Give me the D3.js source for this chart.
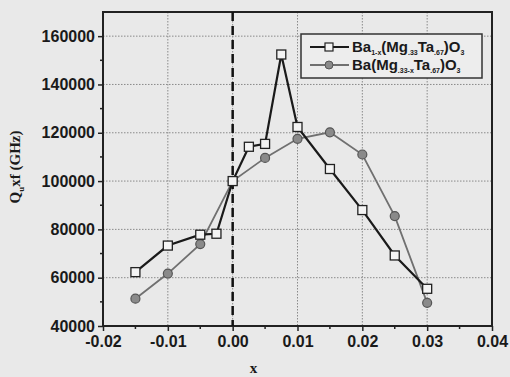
<!DOCTYPE html>
<html>
<head>
<meta charset="utf-8">
<script src="https://cdn.jsdelivr.net/npm/d3@7"></script>
<style>
  body { margin: 0; background: #e9e9e9; }
  svg { display: block; }
</style>
</head>
<body>
<svg id="chart" width="510" height="377"></svg>
<script>
// data
let xSquare = [-0.015, -0.01, -0.005, -0.0025, 0, 0.0025, 0.005, 0.0075, 0.01, 0.015, 0.02, 0.025, 0.03];
let ySquare = [62300, 73300, 77800, 78200, 100000, 114200, 115400, 152400, 122400, 105000, 88000, 69200, 55400];
let xCircle = [-0.015, -0.01, -0.005, 0, 0.005, 0.01, 0.015, 0.02, 0.025, 0.03];
let yCircle = [51300, 61700, 73900, 100000, 109600, 117500, 120200, 111000, 85500, 49600];
let xTicks = [-0.02, -0.01, 0.00, 0.01, 0.02, 0.03, 0.04];
let xTickLabels = ["-0.02", "-0.01", "0.00", "0.01", "0.02", "0.03", "0.04"];
let yTicks = [40000, 60000, 80000, 100000, 120000, 140000, 160000];

let plotL = 103, plotR = 492, plotT = 12, plotB = 326;
let svg = d3.select("#chart");

let x = d3.scaleLinear().domain([-0.02, 0.04]).range([plotL, plotR]);
let y = d3.scaleLinear().domain([40000, 170000]).range([plotB, plotT]);

// grid
svg.append("g")
	.selectAll("line")
	.data(xTicks.slice(1, -1))
	.enter().append("line")
	.attr("x1", d => x(d)).attr("x2", d => x(d))
	.attr("y1", plotT).attr("y2", plotB)
	.attr("stroke", "#8a8a8a")
	.attr("stroke-width", 1)
	.attr("stroke-dasharray", "1.5,1.5");

svg.append("g")
	.selectAll("line")
	.data(yTicks.slice(1))
	.enter().append("line")
	.attr("x1", plotL).attr("x2", plotR)
	.attr("y1", d => y(d)).attr("y2", d => y(d))
	.attr("stroke", "#8a8a8a")
	.attr("stroke-width", 1)
	.attr("stroke-dasharray", "1.5,1.5");

// axes
let xAxis = svg.append("g")
	.attr("transform", "translate(0," + plotB + ")")
	.call(d3.axisBottom(x).tickValues(xTicks)
		.tickFormat((d, i) => xTickLabels[i]).tickSize(5).tickPadding(5));
let yAxis = svg.append("g")
	.attr("transform", "translate(" + plotL + ",0)")
	.call(d3.axisLeft(y).tickValues(yTicks).tickFormat(d3.format("d")).tickSize(5).tickPadding(3));

// minor ticks
svg.append("g")
	.selectAll("line")
	.data(d3.range(-0.015, 0.04, 0.01))
	.enter().append("line")
	.attr("x1", d => x(d)).attr("x2", d => x(d))
	.attr("y1", plotB).attr("y2", plotB + 3)
	.attr("stroke", "#222").attr("stroke-width", 1.5);
svg.append("g")
	.selectAll("line")
	.data(d3.range(50000, 170000, 20000))
	.enter().append("line")
	.attr("x1", plotL - 3).attr("x2", plotL)
	.attr("y1", d => y(d)).attr("y2", d => y(d))
	.attr("stroke", "#222").attr("stroke-width", 1.5);

[xAxis, yAxis].forEach(function(a) {
	a.select(".domain").remove();
	a.selectAll("line").attr("stroke", "#222").attr("stroke-width", 1.5);
	a.selectAll("text")
		.style("font", "bold 16px 'Liberation Sans', Arial, sans-serif")
		.attr("fill", "#1a1a1a");
});

// frame
svg.append("rect")
	.attr("x", plotL).attr("y", plotT)
	.attr("width", plotR - plotL).attr("height", plotB - plotT)
	.attr("fill", "none")
	.attr("stroke", "#222")
	.attr("stroke-width", 2);

// x = 0 dashed line
svg.append("line")
	.attr("x1", x(0)).attr("x2", x(0))
	.attr("y1", plotT).attr("y2", plotB)
	.attr("stroke", "#111")
	.attr("stroke-width", 2.5)
	.attr("stroke-dasharray", "9,5");

// series
let squareData = xSquare.map((d, i) => ({x: d, y: ySquare[i]}));
let circleData = xCircle.map((d, i) => ({x: d, y: yCircle[i]}));
let line = d3.line().x(d => x(d.x)).y(d => y(d.y));

svg.append("path")
	.datum(circleData)
	.attr("d", line)
	.attr("fill", "none")
	.attr("stroke", "#707070")
	.attr("stroke-width", 1.8);

svg.append("path")
	.datum(squareData)
	.attr("d", line)
	.attr("fill", "none")
	.attr("stroke", "#1a1a1a")
	.attr("stroke-width", 2.2);

svg.append("g")
	.selectAll("circle")
	.data(circleData)
	.enter().append("circle")
	.attr("cx", d => x(d.x))
	.attr("cy", d => y(d.y))
	.attr("r", 4.5)
	.attr("fill", "#8a8a8a")
	.attr("stroke", "#555")
	.attr("stroke-width", 1.2);

svg.append("g")
	.selectAll("rect")
	.data(squareData)
	.enter().append("rect")
	.attr("x", d => x(d.x) - 4.5)
	.attr("y", d => y(d.y) - 4.5)
	.attr("width", 9).attr("height", 9)
	.attr("fill", "#f4f4f4")
	.attr("stroke", "#222")
	.attr("stroke-width", 1.3);

// legend
let legend = svg.append("g");
legend.append("rect")
	.attr("x", 301).attr("y", 34)
	.attr("width", 181).attr("height", 44)
	.attr("fill", "#ededed")
	.attr("stroke", "#333")
	.attr("stroke-width", 1.5);

legend.append("line")
	.attr("x1", 310).attr("x2", 349).attr("y1", 47).attr("y2", 47)
	.attr("stroke", "#1a1a1a").attr("stroke-width", 2);
legend.append("rect")
	.attr("x", 325).attr("y", 43).attr("width", 8).attr("height", 8)
	.attr("fill", "#f4f4f4").attr("stroke", "#222").attr("stroke-width", 1.2);
legend.append("line")
	.attr("x1", 310).attr("x2", 349).attr("y1", 65).attr("y2", 65)
	.attr("stroke", "#707070").attr("stroke-width", 1.8);
legend.append("circle")
	.attr("cx", 329).attr("cy", 65).attr("r", 4)
	.attr("fill", "#8a8a8a").attr("stroke", "#555").attr("stroke-width", 1);

let legFont = "bold 15px 'Liberation Sans', Arial, sans-serif";
function sub(t, s) {
	t.append("tspan").attr("dy", 3).style("font-size", "7px").text(s);
}
function main(t, s) {
	t.append("tspan").attr("dy", -3).text(s);
}
let t1 = legend.append("text").attr("x", 352).attr("y", 52).style("font", legFont).attr("fill", "#1a1a1a");
t1.append("tspan").text("Ba");
sub(t1, "1-x"); main(t1, "(Mg"); sub(t1, ".33"); main(t1, "Ta"); sub(t1, ".67"); main(t1, ")O"); sub(t1, "3");

let t2 = legend.append("text").attr("x", 352).attr("y", 70).style("font", legFont).attr("fill", "#1a1a1a");
t2.append("tspan").text("Ba(Mg");
sub(t2, ".33-x"); main(t2, "Ta"); sub(t2, ".67"); main(t2, ")O"); sub(t2, "3");

// axis labels
svg.append("text")
	.attr("x", x(0.01) - 44)
	.attr("y", 373)
	.style("text-anchor", "middle")
	.style("font", "bold 15px 'Liberation Serif', 'Times New Roman', serif")
	.attr("fill", "#1a1a1a")
	.text("x");

let yl = svg.append("text")
	.attr("transform", "translate(20,167) rotate(-90)")
	.style("text-anchor", "middle")
	.style("font", "bold 15px 'Liberation Serif', 'Times New Roman', serif")
	.attr("fill", "#1a1a1a");
yl.append("tspan").text("Q");
yl.append("tspan").attr("dy", 4).style("font-size", "9px").text("u");
yl.append("tspan").attr("dy", -4).text("xf (GHz)");
</script>
</body>
</html>
